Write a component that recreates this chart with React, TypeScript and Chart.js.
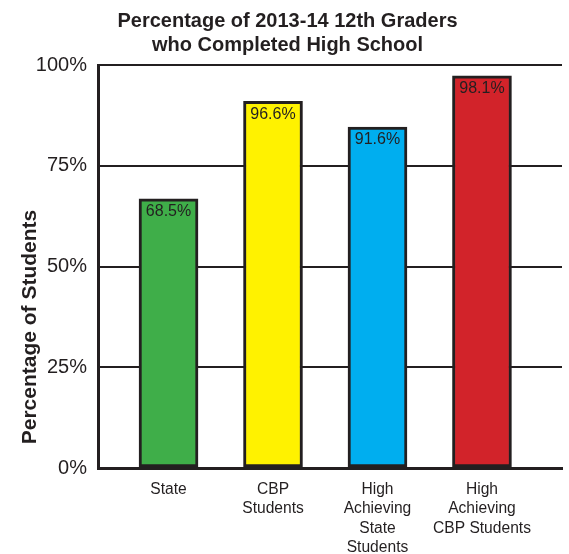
import React, { useEffect, useRef } from "react";
import { Chart, registerables } from "chart.js";

Chart.register(...registerables);

const categories: (string | string[])[] = [
  "State",
  ["CBP", "Students"],
  ["High", "Achieving", "State", "Students"],
  ["High", "Achieving", "CBP Students"],
];
// bar heights as drawn in the picture
const barValues = [66.8, 91.0, 84.6, 97.3];
// labels printed on the bars
const barLabels = ["68.5%", "96.6%", "91.6%", "98.1%"];
const barColors = ["#3fae49", "#fff200", "#00aeef", "#d2232a"];
const yTicks = [0, 25, 50, 75, 100];

const TEXT = "#231f20";
const FONT = "'Liberation Sans', Arial, Helvetica, sans-serif";

const barLabelPlugin = {
  id: "barLabels",
  afterDatasetsDraw(chart: any) {
    const ctx = chart.ctx;
    const meta = chart.getDatasetMeta(0);
    ctx.save();
    ctx.font = `16px ${FONT}`;
    ctx.fillStyle = TEXT;
    ctx.textAlign = "center";
    ctx.textBaseline = "middle";
    meta.data.forEach((bar: any, i: number) => {
      ctx.fillText(barLabels[i], bar.x, bar.y + 13);
    });
    ctx.restore();
  },
};

const yTitlePlugin = {
  id: "yTitle",
  afterDraw(chart: any) {
    const ctx = chart.ctx;
    ctx.save();
    ctx.translate(30, 327);
    ctx.rotate(-Math.PI / 2);
    ctx.font = `bold 21px ${FONT}`;
    ctx.fillStyle = TEXT;
    ctx.textAlign = "center";
    ctx.textBaseline = "middle";
    ctx.fillText("Percentage of Students", 0, 0);
    ctx.restore();
  },
};

export default function App() {
  const ref = useRef<HTMLCanvasElement>(null);
  useEffect(() => {
    if (!ref.current) return;
    const chart = new Chart(ref.current, {
      type: "bar",
      data: {
        datasets: [
          {
            data: barValues.map((v, i) => ({ x: i, y: v })),
            backgroundColor: barColors,
            borderColor: TEXT,
            borderWidth: 3,
            borderSkipped: false,
            barThickness: 59,
          },
        ],
      },
      options: {
        responsive: false,
        animation: false,
        layout: { padding: { left: 13, right: 7, top: 0, bottom: 0 } },
        plugins: {
          legend: { display: false },
          tooltip: { enabled: false },
          title: {
            display: true,
            text: ["Percentage of 2013-14 12th Graders", "who Completed High School"],
            color: TEXT,
            font: { family: FONT, size: 20, weight: "bold", lineHeight: 1.2 },
            padding: { top: 9, bottom: 8 },
          },
        },
        scales: {
          x: {
            type: "linear",
            offset: false,
            min: -0.675,
            max: 3.766,
            grid: { display: false },
            border: { display: true, color: TEXT, width: 3 },
            ticks: {
              stepSize: 1,
              includeBounds: false,
              autoSkip: false,
              maxRotation: 0,
              padding: 4,
              color: TEXT,
              font: { family: FONT, size: 15.6, lineHeight: 1.24 },
              callback: (v: any) =>
                Number.isInteger(v) && v >= 0 && v < categories.length ? categories[v] : "",
            },
            afterFit: (s: any) => {
              s.height = 86;
            },
          },
          y: {
            min: 0,
            max: 100,
            afterBuildTicks: (s: any) => {
              s.ticks = yTicks.map((v) => ({ value: v }));
            },
            grid: { color: TEXT, lineWidth: 2, drawTicks: false },
            border: { display: true, color: TEXT, width: 3 },
            ticks: {
              padding: 11,
              color: TEXT,
              font: { family: FONT, size: 20 },
              callback: (v: any) => `${v}%`,
            },
            afterFit: (s: any) => {
              s.width = 85;
            },
          },
        },
      },
      plugins: [barLabelPlugin, yTitlePlugin],
    });
    return () => chart.destroy();
  }, []);
  return (
    <div style={{ position: "absolute", left: 0, top: 0, width: 569, height: 554 }}>
      <canvas ref={ref} width={569} height={554} style={{ display: "block" }} />
    </div>
  );
}
